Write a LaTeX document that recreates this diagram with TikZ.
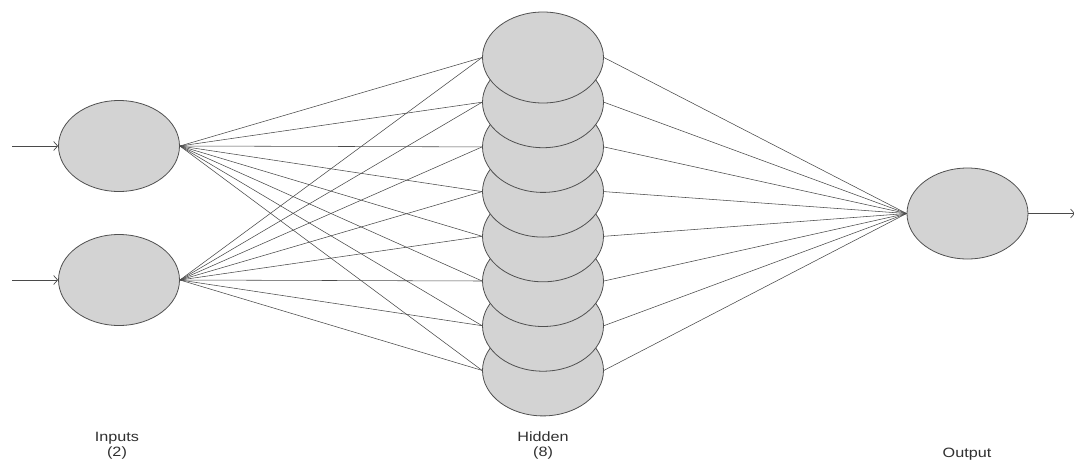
\documentclass[tikz,border=0pt]{standalone}
\usepackage{fontspec}
\setmainfont{Liberation Sans}
\usetikzlibrary{shapes.geometric,arrows.meta,backgrounds}
\definecolor{nfill}{HTML}{D3D3D3}
\definecolor{nedge}{HTML}{505050}
\definecolor{wire}{HTML}{4A4A4A}
\definecolor{txt}{HTML}{303030}
\tikzset{
  neuron/.style={ellipse, draw=nedge, fill=nfill, line width=0.8pt, minimum width=121pt, minimum height=91pt, inner sep=0pt},
  wireline/.style={draw=wire, line width=0.55pt},
  ioarrow/.style={draw=wire, line width=0.7pt, -{Straight Barb[length=4pt,width=9pt]}},
  lab/.style={anchor=base, text=txt, font=\fontsize{13.5}{15}\selectfont, inner sep=0pt}
}
\newcommand{\wide}[1]{\scalebox{1.2}[1]{#1}}
\begin{document}
\begin{tikzpicture}[x=1pt,y=-1pt]
\useasboundingbox (0,0) rectangle (1074,461);
% inputs
\node[neuron] (i1) at (119,146) {};
\node[neuron] (i2) at (119,280) {};
% hidden (bottom drawn first, top last)
\foreach \k in {8,7,...,1} {
  \pgfmathsetmacro{\yy}{57.5+44.7*(\k-1)}
  \node[neuron] (h\k) at (543,\yy) {};
}
% output
\node[neuron] (o) at (967.5,213.5) {};
% free ends
\coordinate (a1) at (12,146);
\coordinate (a2) at (12,280);
\coordinate (oa) at (1075,213.5);
\begin{pgfonlayer}{background}
  \fill[white] (0,0) rectangle (1074,461);
  \foreach \i in {1,2} {
    \foreach \k in {1,...,8} {
      \draw[wireline] (i\i.east) -- (h\k.west);
    }
  }
  \foreach \k in {1,...,8} {
    \draw[wireline] (h\k.east) -- (o.west);
  }
\end{pgfonlayer}
\draw[ioarrow] (a1) -- (i1.west);
\draw[ioarrow] (a2) -- (i2.west);
\draw[ioarrow] (o.east) -- (oa);
% labels
\node[lab] (li) at (117,441) {\wide{Inputs}};
\node[lab] (li2) at (117,456) {\wide{(2)}};
\node[lab] (lh) at (543,441) {\wide{Hidden}};
\node[lab] (lh2) at (543,456) {\wide{(8)}};
\node[lab] (lo) at (967,457) {\wide{Output}};
\end{tikzpicture}
\end{document}
